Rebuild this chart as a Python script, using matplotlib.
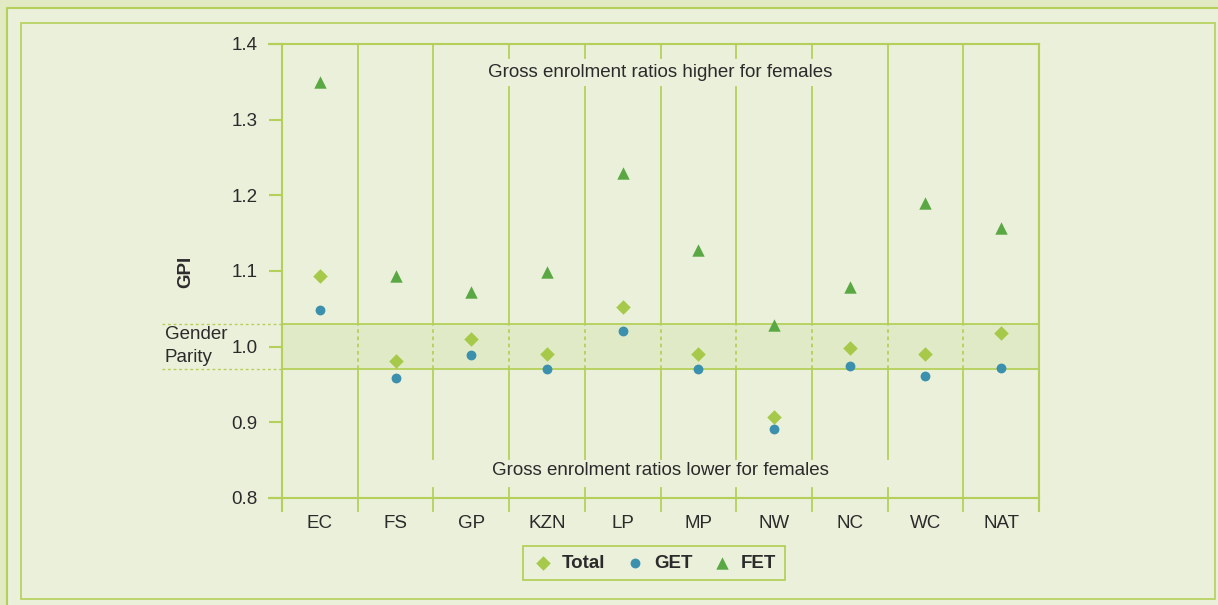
import matplotlib.pyplot as plt
from matplotlib.patches import Rectangle
from matplotlib.lines import Line2D

plt.rcParams['font.family'] = ['Liberation Sans', 'DejaVu Sans']

# data
regions = ['EC', 'FS', 'GP', 'KZN', 'LP', 'MP', 'NW', 'NC', 'WC', 'NAT']
total = [1.093, 0.981, 1.010, 0.990, 1.052, 0.990, 0.907, 0.998, 0.990, 1.018]
get = [1.048, 0.958, 0.989, 0.970, 1.021, 0.970, 0.891, 0.974, 0.961, 0.972]
fet = [1.350, 1.093, 1.072, 1.099, 1.229, 1.128, 1.029, 1.079, 1.190, 1.157]
yticks = [0.8, 0.9, 1.0, 1.1, 1.2, 1.3, 1.4]
parity_lo, parity_hi = 0.97, 1.03

W, H = 1218, 605
GREEN_LINE = '#b4d05a'
BG = '#ebf0da'
BG_DARK = '#e1eac3'
BAND = '#e1eac6'
TXT = '#2b2b2b'
C_TOTAL = '#a6c94a'
C_GET = '#3b90ad'
C_FET = '#5aa844'
FS = 13.5

fig = plt.figure(figsize=(W / 100, H / 100), dpi=100)
fig.patch.set_facecolor(BG_DARK)


def fx(px):
    return px / W


def fy(py):
    return 1 - py / H


# background + frames
fig.patches.append(Rectangle((fx(7), 0), 1, fy(8), transform=fig.transFigure,
                             facecolor=BG, edgecolor='none', zorder=-10))
fig.lines.append(Line2D([fx(7), fx(7), 1], [0, fy(8), fy(8)], transform=fig.transFigure,
                        color=GREEN_LINE, lw=1.5))
fig.patches.append(Rectangle((fx(21), fy(599)), fx(1215) - fx(21), fy(23) - fy(599),
                             transform=fig.transFigure, facecolor='none',
                             edgecolor=GREEN_LINE, lw=1.2))

ax = fig.add_axes([fx(282), fy(498), fx(1039) - fx(282), fy(44) - fy(498)])
ax.set_facecolor(BG)
for s in ax.spines.values():
    s.set_visible(False)

n = len(regions)
ax.set_xlim(-0.5, n - 0.5)
ax.set_ylim(0.8, 1.4)

# gender parity band
ax.axhspan(parity_lo, parity_hi, color=BAND, zorder=0, lw=0)
for yv in (parity_lo, parity_hi):
    ax.plot([-0.5, n - 0.5], [yv, yv], color=GREEN_LINE, lw=1.3, zorder=1)
    ax.plot([-2.085, -0.5], [yv, yv], color=GREEN_LINE, lw=1.0, ls=(0, (2, 2)),
            clip_on=False, zorder=1)

# horizontal bounds
ylo = 0.8 - 13 / 757
xleft = -0.5 - 13 / 75.7
for yv in (0.8, 1.4):
    ax.plot([xleft, n - 0.5], [yv, yv], color=GREEN_LINE, lw=1.5, clip_on=False, zorder=1)

# vertical separators
top_break = (1.343, 1.381)
bot_break = (0.8135, 0.8515)
for i in range(n + 1):
    xb = i - 0.5
    if i in (0, n):
        ax.plot([xb, xb], [ylo, 1.4], color=GREEN_LINE, lw=1.5, clip_on=False, zorder=1)
        continue
    segs = []
    lo = ylo
    if 2 <= i <= 8:
        segs.append((lo, bot_break[0]))
        lo = bot_break[1]
    segs.append((lo, parity_lo))
    if 3 <= i <= 7:
        segs.append((parity_hi, top_break[0]))
        segs.append((top_break[1], 1.4))
    else:
        segs.append((parity_hi, 1.4))
    for a, b in segs:
        ax.plot([xb, xb], [a, b], color=GREEN_LINE, lw=1.3, clip_on=False, zorder=1)
    ax.plot([xb, xb], [parity_lo, parity_hi], color=GREEN_LINE, lw=1.3,
            ls=(0, (2, 2)), zorder=1)

# ticks
ax.set_yticks(yticks)
ax.set_yticklabels([f'{v:.1f}' for v in yticks])
ax.tick_params(axis='y', direction='out', length=9.4, width=1.5, color=GREEN_LINE,
               pad=8, labelsize=FS, labelcolor=TXT)
ax.set_xticks(range(n))
ax.set_xticklabels(regions)
ax.tick_params(axis='x', length=0, pad=12, labelsize=FS, labelcolor=TXT)

# points
x = list(range(n))
h_total = ax.scatter(x, total, marker='D', s=55, color=C_TOTAL, zorder=3, lw=0)
h_get = ax.scatter(x, get, marker='o', s=50, color=C_GET, zorder=3, lw=0)
h_fet = ax.scatter(x, fet, marker='^', s=80, color=C_FET, zorder=3, lw=0)

# annotations
ax.text(4.5, 1.3628, 'Gross enrolment ratios higher for females', ha='center',
        va='center', fontsize=FS, color=TXT)
ax.text(4.5, 0.8357, 'Gross enrolment ratios lower for females', ha='center',
        va='center', fontsize=FS, color=TXT)
fig.text(fx(186), fy(272), 'GPI', rotation=90, ha='center', va='center',
         fontsize=FS, fontweight='bold', color=TXT)
fig.text(fx(165), fy(346), 'Gender\nParity', ha='left', va='center',
         fontsize=FS, color=TXT, linespacing=1.4)

leg = fig.legend([h_total, h_get, h_fet], ['Total', 'GET', 'FET'], ncol=3,
                 loc='center', bbox_to_anchor=(fx(654), fy(563)),
                 prop={'weight': 'bold', 'size': FS}, frameon=True,
                 fancybox=False, edgecolor=GREEN_LINE, facecolor=BG,
                 handletextpad=0.4, columnspacing=1.0, handlelength=1.2,
                 borderpad=0.45)
leg.get_frame().set_linewidth(1.3)
leg.get_frame().set_alpha(None)
for t in leg.get_texts():
    t.set_color(TXT)

fig.savefig('out.png', dpi=100, facecolor=fig.get_facecolor())
